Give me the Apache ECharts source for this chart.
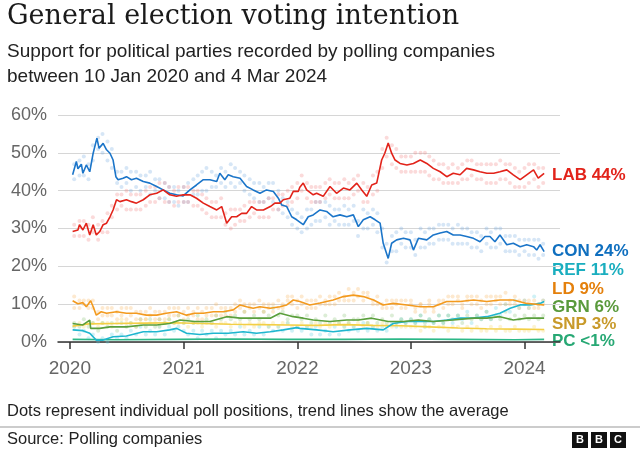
<!DOCTYPE html>
<html><head><meta charset="utf-8">
<script src="https://cdn.jsdelivr.net/npm/echarts@6/dist/echarts.min.js"></script>
<style>html,body{margin:0;padding:0;background:#fff}#c{width:640px;height:450px}</style>
</head><body><div id="c"></div>
<script>
// ---- Trend lines (average) ----
const conTrend = [['2020-01-10',44.2],['2020-01-22',47.7],['2020-01-27',45.8],['2020-02-07',47.0],['2020-02-12',44.6],['2020-02-23',46.8],['2020-03-05',45.0],['2020-03-16',49.9],['2020-03-28',53.9],['2020-04-04',51.2],['2020-04-17',52.5],['2020-04-28',50.8],['2020-05-09',49.9],['2020-05-19',48.1],['2020-05-28',43.7],['2020-06-04',42.9],['2020-06-20',43.3],['2020-07-01',43.7],['2020-07-17',42.9],['2020-08-02',43.3],['2020-08-24',42.4],['2020-09-14',42.0],['2020-10-06',41.1],['2020-10-27',40.2],['2020-11-17',39.3],['2020-12-09',38.9],['2020-12-30',38.6],['2021-01-21',40.2],['2021-02-11',41.5],['2021-03-05',42.9],['2021-03-26',42.9],['2021-04-17',42.4],['2021-04-27',44.6],['2021-05-13',42.9],['2021-05-24',44.2],['2021-06-09',43.7],['2021-07-01',43.3],['2021-07-22',41.1],['2021-08-12',40.2],['2021-09-03',39.3],['2021-09-24',40.2],['2021-10-16',39.8],['2021-11-01',38.0],['2021-11-12',36.2],['2021-11-28',35.8],['2021-12-14',33.1],['2021-12-30',32.3],['2022-01-20',31.0],['2022-02-05',33.1],['2022-02-21',33.6],['2022-03-15',34.9],['2022-04-05',34.5],['2022-04-26',33.1],['2022-05-18',33.6],['2022-06-09',33.1],['2022-06-30',33.6],['2022-07-16',30.5],['2022-08-01',32.3],['2022-08-23',33.1],['2022-09-08',32.3],['2022-09-24',31.4],['2022-10-04',26.1],['2022-10-20',22.1],['2022-10-31',26.1],['2022-11-16',27.0],['2022-12-08',27.4],['2022-12-29',27.0],['2023-01-09',24.3],['2023-01-25',27.4],['2023-02-21',27.0],['2023-03-14',28.3],['2023-04-05',28.8],['2023-04-26',29.2],['2023-05-17',28.3],['2023-06-08',28.3],['2023-06-29',27.9],['2023-07-21',27.4],['2023-08-11',26.5],['2023-08-27',27.9],['2023-09-12',27.9],['2023-09-28',26.5],['2023-10-14',28.3],['2023-11-05',25.7],['2023-11-26',26.1],['2023-12-18',25.2],['2024-01-08',25.7],['2024-01-30',25.2],['2024-02-09',24.3],['2024-02-20',25.7],['2024-03-04',23.9]];
const labTrend = [['2020-01-10',29.2],['2020-01-27',29.6],['2020-02-01',31.0],['2020-02-12',29.6],['2020-02-23',31.4],['2020-03-05',28.3],['2020-03-16',31.0],['2020-03-26',28.3],['2020-04-06',29.2],['2020-04-17',31.0],['2020-04-28',31.4],['2020-05-09',33.1],['2020-05-19',34.9],['2020-05-30',37.6],['2020-06-10',37.1],['2020-07-01',37.6],['2020-07-17',37.1],['2020-08-02',36.7],['2020-08-24',37.6],['2020-09-14',38.9],['2020-10-06',39.3],['2020-10-27',40.2],['2020-11-17',38.9],['2020-12-09',38.5],['2020-12-30',38.9],['2021-01-21',38.9],['2021-02-11',38.0],['2021-03-05',36.7],['2021-03-26',35.8],['2021-04-17',34.9],['2021-05-03',35.8],['2021-05-19',31.4],['2021-06-04',33.1],['2021-06-20',33.1],['2021-07-06',34.0],['2021-07-22',34.0],['2021-08-07',35.8],['2021-08-23',34.9],['2021-09-14',34.9],['2021-10-06',35.8],['2021-10-21',36.7],['2021-11-06',36.7],['2021-11-17',37.6],['2021-12-08',38.0],['2021-12-19',39.8],['2022-01-04',39.8],['2022-01-09',40.9],['2022-01-20',42.0],['2022-01-31',40.2],['2022-02-21',38.9],['2022-03-04',39.3],['2022-03-25',38.5],['2022-04-16',41.1],['2022-05-07',39.3],['2022-05-29',40.7],['2022-06-19',40.2],['2022-07-11',42.0],['2022-07-27',40.2],['2022-08-12',38.5],['2022-08-28',41.5],['2022-09-13',42.0],['2022-09-29',48.1],['2022-10-09',49.9],['2022-10-20',52.6],['2022-10-31',49.9],['2022-11-11',48.1],['2022-11-27',47.2],['2022-12-19',46.8],['2023-01-09',47.2],['2023-01-31',48.1],['2023-02-21',47.2],['2023-03-14',45.9],['2023-04-05',45.0],['2023-04-26',43.7],['2023-05-17',44.6],['2023-06-08',44.2],['2023-06-29',45.9],['2023-07-21',45.5],['2023-08-11',45.0],['2023-09-02',44.6],['2023-09-24',44.6],['2023-10-14',45.0],['2023-11-05',45.5],['2023-11-26',44.2],['2023-12-18',42.9],['2024-01-08',44.2],['2024-01-30',45.5],['2024-02-14',43.3],['2024-03-04',44.6]];
const ldTrend = [['2020-01-10',10.9],['2020-01-27',10.1],['2020-02-12',10.4],['2020-02-23',9.3],['2020-03-08',10.9],['2020-03-16',9.3],['2020-03-26',7.1],['2020-04-11',8.0],['2020-04-28',7.6],['2020-05-30',8.0],['2020-07-01',7.6],['2020-08-02',7.6],['2020-09-03',7.1],['2020-10-06',7.1],['2020-11-06',7.6],['2020-12-09',8.0],['2021-01-10',7.1],['2021-02-05',7.6],['2021-03-05',7.6],['2021-04-06',8.0],['2021-05-08',8.0],['2021-06-09',8.5],['2021-07-01',9.8],['2021-07-22',9.3],['2021-08-12',8.9],['2021-09-03',9.3],['2021-10-06',8.9],['2021-11-06',9.3],['2021-11-28',9.8],['2021-12-19',11.1],['2022-01-09',10.7],['2022-02-10',9.8],['2022-03-15',10.3],['2022-04-26',11.1],['2022-05-29',12.0],['2022-06-30',12.4],['2022-08-01',12.0],['2022-09-03',11.1],['2022-10-04',9.8],['2022-11-05',10.2],['2022-12-19',9.8],['2023-01-31',9.3],['2023-03-14',9.3],['2023-04-26',10.7],['2023-06-08',10.7],['2023-07-21',11.1],['2023-09-02',10.7],['2023-10-14',11.1],['2023-11-26',11.1],['2024-01-08',10.2],['2024-03-04',9.8]];
const grnTrend = [['2020-01-10',4.9],['2020-02-12',4.5],['2020-03-05',5.8],['2020-03-08',3.6],['2020-04-06',3.6],['2020-05-09',4.0],['2020-07-01',4.0],['2020-08-24',4.5],['2020-10-06',4.5],['2020-11-17',4.9],['2020-12-20',5.8],['2021-02-05',5.4],['2021-03-26',5.4],['2021-05-19',6.7],['2021-07-01',6.3],['2021-08-23',6.3],['2021-10-06',6.3],['2021-11-06',7.6],['2021-12-19',6.7],['2022-01-20',6.3],['2022-02-21',5.8],['2022-04-16',5.4],['2022-06-09',5.8],['2022-07-16',5.8],['2022-08-28',6.3],['2022-10-20',5.4],['2022-12-08',5.4],['2023-01-25',5.8],['2023-03-14',5.4],['2023-05-17',5.8],['2023-07-21',6.3],['2023-09-02',6.3],['2023-10-14',6.7],['2023-11-26',5.8],['2024-01-08',6.3],['2024-03-04',6.3]];
const refTrend = [['2020-01-10',3.2],['2020-02-12',3.0],['2020-03-05',2.3],['2020-03-26',0.5],['2020-04-17',0.5],['2020-05-19',1.4],['2020-07-01',1.6],['2020-08-24',2.7],['2020-10-06',2.7],['2020-11-17',3.2],['2020-12-09',3.6],['2021-01-10',2.3],['2021-02-21',2.0],['2021-04-06',2.3],['2021-05-24',2.3],['2021-07-11',2.7],['2021-08-23',2.3],['2021-10-06',2.7],['2021-11-17',3.2],['2021-12-30',3.8],['2022-01-09',3.6],['2022-03-04',3.2],['2022-04-26',2.7],['2022-06-19',3.2],['2022-08-12',3.6],['2022-10-04',3.2],['2022-11-05',4.9],['2022-12-18',5.4],['2023-01-30',5.4],['2023-03-14',5.4],['2023-04-26',5.8],['2023-06-08',6.3],['2023-07-21',6.3],['2023-09-02',6.7],['2023-10-14',7.6],['2023-11-16',8.9],['2023-12-18',9.8],['2024-01-19',9.8],['2024-02-20',10.2],['2024-03-04',10.7]];
const snpTrend = [['2020-01-10',4.2],['2020-03-01',4.8],['2020-06-01',4.9],['2020-09-01',5.0],['2020-12-01',5.1],['2021-03-01',4.9],['2021-06-01',4.7],['2021-09-01',4.6],['2021-12-01',4.5],['2022-03-01',4.4],['2022-06-01',4.6],['2022-09-01',4.4],['2022-12-01',4.3],['2023-03-01',4.0],['2023-06-01',3.7],['2023-09-01',3.5],['2023-12-01',3.4],['2024-03-04',3.3]];
const pcTrend = [['2020-01-10',0.7],['2020-06-01',0.6],['2020-12-01',0.7],['2021-06-01',0.8],['2021-12-01',0.7],['2022-06-01',0.7],['2022-12-01',0.8],['2023-06-01',0.7],['2023-12-01',0.6],['2024-03-04',0.7]];

// ---- Individual polls (dots) ----
const pollDates = ['2020-01-15','2020-02-01','2020-02-15','2020-03-01','2020-03-15','2020-04-01','2020-04-15','2020-05-01','2020-05-15','2020-06-01','2020-06-15','2020-07-01','2020-07-15','2020-08-01','2020-08-15','2020-09-01','2020-09-15','2020-10-01','2020-10-15','2020-11-01','2020-11-15','2020-12-01','2020-12-15',
'2021-01-01','2021-01-15','2021-02-01','2021-02-15','2021-03-01','2021-03-15','2021-04-01','2021-04-15','2021-05-01','2021-05-15','2021-06-01','2021-06-15','2021-07-01','2021-07-15','2021-08-01','2021-08-15','2021-09-01','2021-09-15','2021-10-01','2021-10-15','2021-11-01','2021-11-15','2021-12-01','2021-12-15',
'2022-01-01','2022-01-15','2022-02-01','2022-02-15','2022-03-01','2022-03-15','2022-04-01','2022-04-15','2022-05-01','2022-05-15','2022-06-01','2022-06-15','2022-07-01','2022-07-15','2022-08-01','2022-08-15','2022-09-01','2022-09-15','2022-10-01','2022-10-15','2022-11-01','2022-11-15','2022-12-01','2022-12-15',
'2023-01-01','2023-01-15','2023-02-01','2023-02-15','2023-03-01','2023-03-15','2023-04-01','2023-04-15','2023-05-01','2023-05-15','2023-06-01','2023-06-15','2023-07-01','2023-07-15','2023-08-01','2023-08-15','2023-09-01','2023-09-15','2023-10-01','2023-10-15','2023-11-01','2023-11-15','2023-12-01','2023-12-15',
'2024-01-01','2024-01-15','2024-02-01','2024-02-15','2024-03-01'];
const conPollsA = [47,44,49,43,52,54,50,53,46,45,41,46,40,45,40,44,39,43,38,42,37,41,36, 41,37,43,39,45,40,45,41,46,41,47,41,45,40,43,38,42,37,42,37,40,34,37,31, 34,29,35,31,37,32,37,31,35,31,36,31,36,28,35,30,35,29,25,21,28,24,30,25, 29,23,30,25,30,26,31,27,31,26,31,26,30,25,29,24,30,25,30,26,28,24,28,23, 27,23,27,22,26];
const conPollsB = [43,48,44,47,48,51,55,48,51,42,45,42,45,41,44,41,45,40,43,38,41,37,40, 37,42,39,44,40,46,41,44,42,45,42,46,42,44,39,42,37,41,38,42,35,38,33,35, 30,33,30,35,32,37,33,36,32,35,31,35,32,32,30,34,31,34,30,26,24,29,26,29, 25,27,25,29,26,30,27,31,27,30,26,30,26,29,25,28,26,29,25,30,24,28,24,27, 24,27,23,27,23];
const labPollsA = [31,28,32,27,33,27,32,29,36,35,39,35,39,35,39,36,41,37,42,37,41,36,41, 37,41,36,40,35,38,33,37,33,34,30,35,32,36,33,37,33,37,33,38,35,39,36,41, 38,44,38,41,37,41,38,43,38,42,38,42,39,44,37,41,39,45,46,54,47,51,45,49, 45,50,45,50,44,48,43,47,42,47,42,47,43,48,43,47,42,47,42,48,43,47,41,45, 41,47,43,46,42];
const labPollsB = [28,32,28,31,29,31,29,34,33,39,36,40,35,39,35,40,37,41,38,42,37,40,37, 41,37,40,36,39,34,37,33,38,31,35,31,35,32,37,34,37,33,38,35,39,36,40,37, 42,40,42,37,41,37,42,39,42,38,43,38,43,40,42,37,44,40,51,49,52,46,49,45, 49,45,50,45,49,43,47,42,46,42,46,43,48,44,47,43,47,42,47,43,47,42,46,41, 46,42,47,41,46];
const ldPollsA = [12,9,11,9,11,6,9,7,9,6,9,6,9,6,8,6,9,6,8,6,9,7,9, 6,9,7,9,6,9,7,10,7,9,7,10,11,8,10,8,11,8,10,8,11,9,12,10, 9,12,9,11,9,12,10,12,10,13,11,14,11,14,11,13,10,12,9,11,9,11,9,11, 11,8,10,8,11,8,11,9,12,10,12,9,12,10,12,9,12,10,12,10,13,10,12,9, 11,9,11,9,11];
const ldPollsB = [9,11,10,11,9,8,7,9,7,8,7,9,7,8,6,8,7,8,6,8,7,9,7, 8,7,8,6,8,7,9,7,9,7,9,8,9,10,9,10,9,10,9,10,9,10,11,12, 11,10,11,9,11,10,11,10,12,11,12,11,13,12,13,12,11,10,10,9,11,10,11,9, 10,9,10,9,10,9,10,11,10,12,11,10,11,12,10,11,10,12,11,12,10,11,10,11, 10,11,9,10,10];
const grnPolls = [5,4,6,4,5,3,5,4,5,3,5,4,5,4,6,4,6,4,6,5,6,5,7, 5,6,5,7,5,6,5,7,6,8,6,7,6,8,6,7,6,8,7,9,7,8,6,7, 7,6,7,5,6,5,7,5,6,5,7,5,6,6,7,5,7,5,6,5,7,5,6,5, 6,5,7,5,6,5,7,5,7,6,7,5,7,6,7,6,8,6,7,6,8,6,7,6, 7,6,7,6,7];
const refPolls = [4,2,3,1,2,0,1,0,2,1,2,1,3,2,4,2,3,2,4,2,4,3,4, 3,2,3,1,3,2,3,1,3,2,3,2,4,2,3,2,4,2,4,3,4,3,5,3, 4,3,4,2,4,2,3,2,4,2,4,3,4,3,5,3,4,3,4,3,5,4,6,5, 6,5,7,4,6,5,7,5,7,5,7,6,8,5,7,6,8,6,9,7,10,8,11,9, 11,9,12,10,11];
const snpPolls = [4,5,4,5,5,4,5,5,4,5,6,5,5,4,5,6,5,5,4,5,6,5,5, 5,4,5,5,4,5,5,4,5,5,4,5,5,4,5,4,5,5,4,5,4,5,5,4, 4,5,4,4,5,4,5,4,5,5,4,5,4,5,4,5,4,4,5,4,4,5,4,4, 4,4,3,4,4,3,4,4,3,4,4,3,4,3,4,3,3,4,3,4,3,3,4,3, 3,3,4,3,3];

// ---- End labels / ticks ----
const endLabels = ['LAB 44%','CON 24%','REF 11%','LD 9%','GRN 6%','SNP 3%','PC <1%'];
const yTicks = [0,10,20,30,40,50,60];

const C = {lab:'#e2231a', con:'#1b75c9', ref:'#1fb6cf', ld:'#f39a1e', grn:'#5a9f3c', snp:'#f3cf45', pc:'#2db888'};
const T = {lab:'#e2231a', con:'#0f6fbf', ref:'#1aaebf', ld:'#e4800c', grn:'#5a9a3c', snp:'#c89a2a', pc:'#27a874'};

function pairs(dates, vals){ return dates.map((d,i)=>[d, vals[i]]); }
function dots(data, color, op){ return {type:'scatter', data, symbolSize:4, silent:true, z:1, itemStyle:{color, opacity:op||0.28}}; }
function line(data, color, w){ return {type:'line', data, showSymbol:false, silent:true, z:3, lineStyle:{color, width:w||1.6}, itemStyle:{color}}; }

const chart = echarts.init(document.getElementById('c'));
const SANS = 'Liberation Sans, Arial, sans-serif';
const lblX = 552;
const lblY = [175, 251, 270, 289, 307, 324, 341];
const lblC = [T.lab, T.con, T.ref, T.ld, T.grn, T.snp, T.pc];

chart.setOption({
  animation:false,
  backgroundColor:'#fff',
  grid:{left:58, right:80, top:115, bottom:108, containLabel:false},
  xAxis:{type:'time', min:'2019-11-24', max:'2024-04-24', minInterval:300*24*3600*1000,
    axisLine:{lineStyle:{color:'#333', width:1.5}},
    axisTick:{show:true, length:7, lineStyle:{color:'#333', width:1.5}},
    axisLabel:{formatter:'{yyyy}', fontSize:19, color:'#666', margin:17, fontFamily:SANS, showMinLabel:false, showMaxLabel:false},
    splitLine:{show:false}},
  yAxis:{type:'value', min:yTicks[0], max:yTicks[yTicks.length-1], interval:10,
    axisLine:{show:false}, axisTick:{show:false},
    axisLabel:{formatter:'{value}%', fontSize:18, color:'#666', margin:11, fontFamily:SANS},
    splitLine:{lineStyle:{color:'#d6d6d6', width:1}}},
  series:[
    dots(pairs(pollDates, snpPolls), '#f5d768', 0.3),
    dots(pairs(pollDates, refPolls), '#5fcfe0', 0.3),
    dots(pairs(pollDates, grnPolls), '#8cc477', 0.3),
    dots(pairs(pollDates, ldPollsA), '#f7b660', 0.3),
    dots(pairs(pollDates, ldPollsB), '#f7b660', 0.3),
    dots(pairs(pollDates, conPollsA), '#6aa6df'),
    dots(pairs(pollDates, conPollsB), '#6aa6df'),
    dots(pairs(pollDates, labPollsA), '#f07a7a'),
    dots(pairs(pollDates, labPollsB), '#f07a7a'),
    line(pcTrend, C.pc),
    line(snpTrend, C.snp),
    line(refTrend, C.ref),
    line(grnTrend, C.grn),
    line(ldTrend, C.ld),
    line(conTrend, C.con),
    line(labTrend, C.lab)
  ],
  graphic:[
    {type:'text', left:7, top:3, style:{text:'General election voting intention', font:'27px "DejaVu Serif", serif', fill:'#1a1a1a'}},
    {type:'text', left:7, top:42, style:{text:'Support for political parties recorded by polling companies', font:'19px '+SANS, fill:'#222'}},
    {type:'text', left:7, top:67, style:{text:'between 10 Jan 2020 and 4 Mar 2024', font:'19px '+SANS, fill:'#222'}},
    {type:'text', left:7, top:403, style:{text:'Dots represent individual poll positions, trend lines show the average', font:'16.5px '+SANS, fill:'#222'}},
    {type:'line', shape:{x1:0, y1:427, x2:640, y2:427}, style:{stroke:'#999', lineWidth:1.2}},
    {type:'text', left:7, top:431, style:{text:'Source: Polling companies', font:'16.5px '+SANS, fill:'#222'}},
    {type:'rect', shape:{x:572, y:432, width:16, height:16}, style:{fill:'#111'}},
    {type:'rect', shape:{x:591, y:432, width:16, height:16}, style:{fill:'#111'}},
    {type:'rect', shape:{x:610, y:432, width:16, height:16}, style:{fill:'#111'}},
    {type:'text', x:580, y:440, style:{text:'B', font:'bold 11px '+SANS, fill:'#fff', align:'center', verticalAlign:'middle'}},
    {type:'text', x:599, y:440, style:{text:'B', font:'bold 11px '+SANS, fill:'#fff', align:'center', verticalAlign:'middle'}},
    {type:'text', x:618, y:440, style:{text:'C', font:'bold 11px '+SANS, fill:'#fff', align:'center', verticalAlign:'middle'}}
  ].concat(endLabels.map((t,i)=>({type:'text', x:lblX, y:lblY[i], style:{text:t, font:'bold 17px '+SANS, fill:lblC[i], verticalAlign:'middle'}})))
});
</script></body></html>
